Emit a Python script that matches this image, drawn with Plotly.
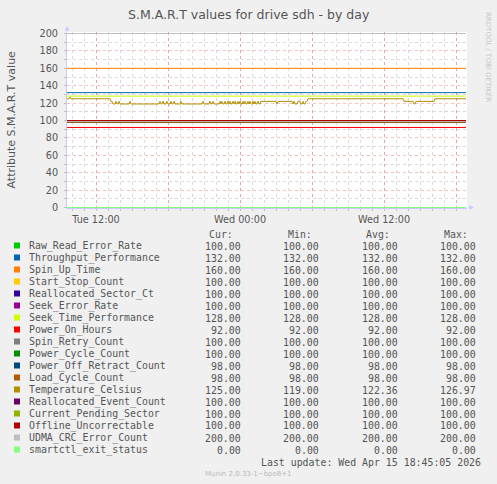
import numpy as np
import pandas as pd
import plotly.graph_objects as go

# series names, colours and constant levels (munin draw order)
names = ["Raw_Read_Error_Rate", "Throughput_Performance", "Spin_Up_Time", "Start_Stop_Count",
         "Reallocated_Sector_Ct", "Seek_Error_Rate", "Seek_Time_Performance", "Power_On_Hours",
         "Spin_Retry_Count", "Power_Cycle_Count", "Power_Off_Retract_Count", "Load_Cycle_Count",
         "Temperature_Celsius", "Reallocated_Event_Count", "Current_Pending_Sector",
         "Offline_Uncorrectable", "UDMA_CRC_Error_Count", "smartctl_exit_status"]
colors = ["#00cc00", "#0066b3", "#ff8000", "#ffcc00", "#330099", "#990099", "#ccff00", "#ff0000",
          "#808080", "#008f00", "#00487d", "#b35a00", "#b38f00", "#6b006b", "#8fb300",
          "#b30000", "#bebebe", "#80ff80"]
levels = [100, 132, 160, 100, 100, 100, 128, 92, 100, 100, 98, 98, None, 100, 100, 100, 200, 0]

cur_vals = [100, 132, 160, 100, 100, 100, 128, 92, 100, 100, 98, 98, 125, 100, 100, 100, 200, 0]
min_vals = [100, 132, 160, 100, 100, 100, 128, 92, 100, 100, 98, 98, 119, 100, 100, 100, 200, 0]
avg_vals = [100, 132, 160, 100, 100, 100, 128, 92, 100, 100, 98, 98, 122.36, 100, 100, 100, 200, 0]
max_vals = [100, 132, 160, 100, 100, 100, 128, 92, 100, 100, 98, 98, 126.97, 100, 100, 100, 200, 0]

# temperature readings: 5-minute sample index from start, value
temp_step = [0, 2, 3, 4, 43, 44, 45, 46,
             48, 49, 50, 51, 52, 53, 62, 63, 64,
             92, 93, 94, 95, 96, 97, 99, 100, 101, 103, 104, 105, 106, 107, 108, 113, 114, 115,
             135, 136, 137, 142, 143, 144, 145, 146, 147,
             152, 153, 154, 155, 156, 157, 158, 159, 160, 161, 162, 163, 164, 165, 166, 167,
             168, 169, 170, 171, 172, 173, 174, 175, 176, 177, 178, 179, 180, 181, 182, 183,
             184, 185, 186, 187, 188, 189, 190, 191, 192, 193, 194,
             209, 210, 211,
             225, 226, 227, 228, 229, 230, 231, 233, 234, 235, 236, 237, 238, 239, 240, 241,
             336, 337, 346, 347, 348, 349, 367, 368, 399]
temp_val = [125, 125, 127, 125, 125, 122, 122, 119,
            119, 122, 119, 119, 122, 119, 119, 122, 119,
            119, 122, 119, 119, 122, 119, 119, 122, 119, 119, 122, 119, 119, 122, 119, 119, 122, 119,
            119, 122, 119, 119, 122, 119, 119, 122, 119,
            119, 122, 119, 122, 119, 119, 122, 119, 119, 122, 119, 122, 119, 119, 122, 119,
            122, 119, 119, 122, 119, 122, 119, 119, 122, 119, 122, 119, 119, 122, 119, 122,
            119, 119, 122, 119, 122, 119, 119, 122, 119, 119, 122,
            122, 119, 122,
            122, 119, 122, 119, 119, 119, 122, 122, 119, 119, 122, 119, 119, 122, 122, 125,
            125, 122, 122, 119, 119, 122, 122, 125, 125]

t_start = "2026-04-14 09:35"
t_last = "2026-04-15 18:50"
x_range = ["2026-04-14 09:35", "2026-04-15 18:55"]
tick_times = ["2026-04-14 12:00", "2026-04-14 18:00", "2026-04-15 00:00",
              "2026-04-15 06:00", "2026-04-15 12:00", "2026-04-15 18:00"]
tick_text = ["Tue 12:00", "", "Wed 00:00", "", "Wed 12:00", ""]

title = "S.M.A.R.T values for drive sdh - by day"
y_title = "Attribute S.M.A.R.T value"
last_update = "Last update: Wed Apr 15 18:45:05 2026"
version = "Munin 2.0.33-1~bpo8+1"
watermark = "RRDTOOL / TOBI OETIKER"

W, H = 497, 484
L, R, T, B = 67, 467, 32, 208
Y_RANGE = [-0.5 / 0.87, (207.5 - T) / 0.87]


def pp(x, y):
    # pixel position -> paper coords
    return (x - L) / (R - L), (B - y) / (B - T)


temp_times = pd.Timestamp(t_start) + pd.to_timedelta(np.array(temp_step) * 5, unit="min")

fig = go.Figure()
for name, col, lvl in zip(names, colors, levels):
    if lvl is None:
        fig.add_trace(go.Scatter(x=temp_times, y=temp_val, mode="lines", name=name,
                                 line=dict(color=col, width=1)))
    else:
        fig.add_trace(go.Scatter(x=[t_start, t_last], y=[lvl, lvl], mode="lines", name=name,
                                 line=dict(color=col, width=1)))

txt = "#555555"
sans = "DejaVu Sans"
mono = "DejaVu Sans Mono"
MS = 9.9
ann = []


def label(px, py, text, anchor="center", **kw):
    x, y = pp(px, py)
    d = dict(x=x, y=y, text=text, xanchor=anchor, yanchor="middle", showarrow=False)
    d.update(kw)
    ann.append(d)


label(248.5, 14.5, title, font=dict(family=sans, size=12.5, color=txt))
label(10.5, 120, y_title, textangle=-90, font=dict(family=sans, size=11, color=txt))
label(488, 57, watermark, textangle=90, font=dict(family=sans, size=7, color="#c8c8c8"))

# legend table
for hdr, xr in zip(["Cur:", "Min:", "Avg:", "Max:"], [235, 313.5, 391.5, 470]):
    label(xr, 234, hdr, "right", font=dict(family=mono, size=MS, color=txt))

shapes = []
for i, name in enumerate(names):
    yc = 245.5 + 12 * i
    x0, y0 = pp(14, yc - 3)
    x1, y1 = pp(20, yc + 3)
    shapes.append(dict(type="rect", xref="paper", yref="paper", x0=x0, x1=x1, y0=y0, y1=y1,
                       fillcolor=colors[i], line=dict(width=0)))
    label(27, yc + 0.5, name, "left", font=dict(family=mono, size=MS, color=txt))
    for vals, xr in zip([cur_vals, min_vals, avg_vals, max_vals], [242.5, 321, 399.5, 477.5]):
        label(xr, yc + 0.5, f"{vals[i]:.2f}", "right", font=dict(family=mono, size=MS, color=txt))

label(483, 462, last_update, "right", font=dict(family=mono, size=MS, color=txt))
label(248.5, 473.5, version, font=dict(family=sans, size=7, color="#bbbbbb"))

# axis arrows
x, y = pp(67, 26)
ann.append(dict(x=x, y=y, ax=0, ay=7, showarrow=True, text="", arrowhead=2, arrowsize=0.9,
                arrowwidth=1, arrowcolor="#c8c8ff"))
x, y = pp(474, 207.5)
ann.append(dict(x=x, y=y, ax=-7, ay=0, showarrow=True, text="", arrowhead=2, arrowsize=0.9,
                arrowwidth=1, arrowcolor="#c8c8ff"))

for a in ann:
    a.setdefault("xref", "paper")
    a.setdefault("yref", "paper")

major = "rgba(255,60,60,0.33)"
minor = "#dadada"

fig.update_layout(
    template="none",
    width=W, height=H,
    margin=dict(l=L, r=W - R, t=T, b=H - B, pad=0),
    paper_bgcolor="#f0f0f0",
    plot_bgcolor="#ffffff",
    showlegend=False,
    annotations=ann,
    shapes=shapes,
    xaxis=dict(
        type="date", range=x_range, automargin=False,
        tickmode="array", tickvals=tick_times, ticktext=tick_text,
        showgrid=True, gridcolor=major, griddash="dot", gridwidth=1,
        ticks="outside", ticklen=2, tickcolor="#c0c0c0",
        tickfont=dict(family=sans, size=9.7, color=txt),
        showline=True, linecolor="#c8c8ff", linewidth=1, zeroline=False,
        layer="below traces",
        minor=dict(dtick=3600000, tick0="2026-04-14 00:00", showgrid=True,
                   gridcolor=minor, griddash="dot", gridwidth=1,
                   ticks="outside", ticklen=2, tickcolor="#c0c0c0"),
    ),
    yaxis=dict(
        range=Y_RANGE, automargin=False,
        tickmode="linear", tick0=0, dtick=20,
        showgrid=True, gridcolor=major, griddash="dot", gridwidth=1,
        ticks="outside", ticklen=2, tickcolor="#c0c0c0",
        tickfont=dict(family=sans, size=9.7, color=txt),
        ticklabelstandoff=4,
        showline=True, linecolor="#c8c8ff", linewidth=1, zeroline=False,
        layer="below traces",
        minor=dict(dtick=10, showgrid=True, gridcolor=minor, griddash="dot", gridwidth=1,
                   ticks="outside", ticklen=2, tickcolor="#c0c0c0"),
    ),
)

fig.write_html("out.html", config={"displayModeBar": False},
               post_script="document.body.style.margin='0';")
